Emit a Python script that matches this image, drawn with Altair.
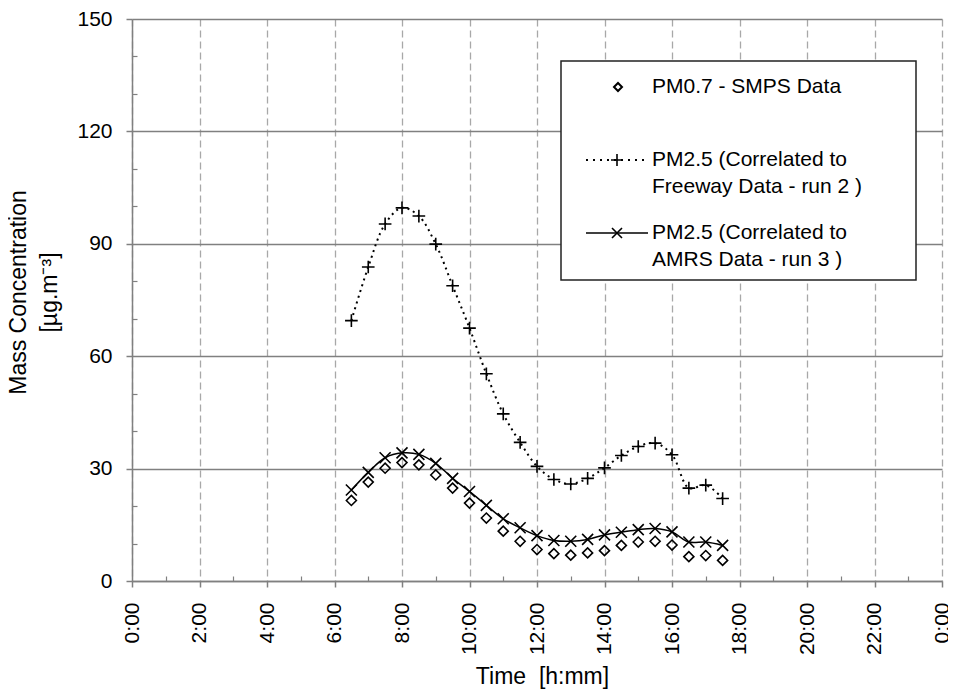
import altair as alt
import pandas as pd

# ---------------- data ----------------
hours = [6.5, 7.0, 7.5, 8.0, 8.5, 9.0, 9.5, 10.0, 10.5, 11.0, 11.5, 12.0,
         12.5, 13.0, 13.5, 14.0, 14.5, 15.0, 15.5, 16.0, 16.5, 17.0, 17.5]
pm07_smps = [21.5, 26.4, 30.1, 31.6, 31.0, 28.3, 24.8, 20.8, 16.8, 13.3, 10.6, 8.4,
             7.3, 6.9, 7.5, 8.1, 9.5, 10.4, 10.6, 9.6, 6.5, 6.8, 5.5]
pm25_freeway = [69.5, 83.8, 95.3, 99.6, 97.4, 89.9, 78.8, 67.5, 55.3, 44.6, 37.0, 30.6,
                27.1, 25.9, 27.4, 30.2, 33.5, 35.9, 36.8, 33.7, 24.8, 25.6, 22.0]
pm25_amrs = [24.3, 29.0, 32.9, 34.2, 33.8, 31.4, 27.4, 23.9, 20.2, 16.6, 14.2, 12.1,
             10.8, 10.6, 11.1, 12.3, 13.0, 13.7, 14.0, 13.1, 10.4, 10.4, 9.5]

series_names = ["SMPS", "Freeway", "AMRS"]
legend_text = [
    ["PM0.7 - SMPS Data"],
    ["PM2.5 (Correlated to", "Freeway Data - run 2 )"],
    ["PM2.5 (Correlated to", "AMRS Data - run 3 )"],
]
x_title = "Time\u00a0\u00a0[h:mm]"
y_title = ["Mass Concentration", "[µg.m⁻³]"]
x_ticks = [0, 2, 4, 6, 8, 10, 12, 14, 16, 18, 20, 22, 24]
x_minor = [1, 3, 5, 7, 9, 11, 13, 15, 17, 19, 21, 23]
y_ticks = [0, 30, 60, 90, 120, 150]
y_minor = [10, 20, 40, 50, 70, 80, 100, 110, 130, 140]

df = pd.DataFrame({
    "hour": hours * 3,
    "value": pm07_smps + pm25_freeway + pm25_amrs,
    "series": [series_names[0]] * len(hours) + [series_names[1]] * len(hours)
              + [series_names[2]] * len(hours),
})

FONT = "Liberation Sans"
GRAY = "#808080"
LEFT, TOP = 124, 11
W, H = 810, 562
BOTTOM = 109
PX0, PY0 = 8 + LEFT, 8 + TOP   # page position of plot origin

xs = alt.Scale(domain=[0, 24], nice=False, zero=False)
ys = alt.Scale(domain=[0, 150], nice=False)

PLUS = "M-1,0L1,0M0,-1L0,1"
CROSS = "M-1,-1L1,1M-1,1L1,-1"

base = alt.Chart(df)

x_axis = alt.Axis(
    values=x_ticks, labelExpr="(datum.value % 24) + ':00'", labelAngle=-90,
    labelFont=FONT, labelFontSize=21, labelColor="black", labelPadding=15,
    tickSize=6, tickColor=GRAY, tickWidth=1.5, domainColor=GRAY, domainWidth=1.5,
    grid=True, gridColor="#a8a8a8", gridDash=[7, 4], gridWidth=1.3,
    title=x_title, titleFont=FONT, titleFontSize=23, titleFontWeight="normal",
    titleColor="black", titleX=542 - PX0, titleY=683 - PY0 - H,
    titleBaseline="alphabetic",
)
y_axis = alt.Axis(
    values=y_ticks, labelFont=FONT, labelFontSize=21, labelColor="black",
    labelPadding=14, tickSize=6, tickColor=GRAY, tickWidth=1.5,
    domainColor=GRAY, domainWidth=1.5,
    grid=True, gridColor=GRAY, gridWidth=1.5,
    title=y_title, titleFont=FONT, titleFontSize=23,
    titleFontWeight="normal", titleColor="black", titleX=30 - PX0, titleY=292 - PY0,
    titleBaseline="bottom", titleLineHeight=31, titleAngle=270,
)

fw_line = base.transform_filter(alt.datum.series == "Freeway").mark_line(
    color="black", strokeWidth=2, strokeDash=[2, 4], interpolate="catmull-rom"
).encode(
    x=alt.X("hour:Q", scale=xs, axis=x_axis),
    y=alt.Y("value:Q", scale=ys, axis=y_axis),
)

minor = base.mark_point(opacity=0).encode(
    x=alt.X("hour:Q", scale=xs, axis=alt.Axis(
        orient="top", offset=-H, values=x_minor, labels=False, domain=False,
        grid=False, tickSize=5, tickColor=GRAY, tickWidth=1.2, title=None)),
    y=alt.Y("value:Q", scale=ys, axis=alt.Axis(
        orient="right", offset=-W, values=y_minor, labels=False, domain=False,
        grid=False, tickSize=5, tickColor=GRAY, tickWidth=1.2, title=None)),
)

am_line = base.transform_filter(alt.datum.series == "AMRS").mark_line(
    color="black", strokeWidth=1.5, interpolate="catmull-rom"
).encode(
    x=alt.X("hour:Q", scale=xs, axis=None),
    y=alt.Y("value:Q", scale=ys, axis=None),
)

def pts(name, shape, size):
    return base.transform_filter(alt.datum.series == name).mark_point(
        shape=shape, size=size, filled=False, color="black", strokeWidth=1.6, opacity=1
    ).encode(
        x=alt.X("hour:Q", scale=xs, axis=None),
        y=alt.Y("value:Q", scale=ys, axis=None),
    )

smps_pts = pts("SMPS", "diamond", 100)
fw_pts = pts("Freeway", PLUS, 160)
am_pts = pts("AMRS", CROSS, 121)

# ---------------- legend box (annotation, page pixels -> plot pixels) ----------------
one = alt.Chart(pd.DataFrame({"k": [0]}))

def px(v):
    return alt.value(v - PX0)

def py(v):
    return alt.value(v - PY0)

leg_box = one.mark_rect(fill="white", stroke="#222", strokeWidth=1.5).encode(
    x=px(561), x2=px(916), y=py(61), y2=py(280))
leg_diamond = one.mark_point(shape="diamond", size=64, filled=False, color="black",
                             strokeWidth=2, opacity=1).encode(x=px(618), y=py(87))
leg_dot = one.mark_rule(color="black", strokeWidth=2, strokeDash=[2, 5]).encode(
    x=px(586), x2=px(648), y=py(160))
leg_plus = one.mark_point(shape=PLUS, size=144, filled=False, color="black",
                          strokeWidth=1.6, opacity=1).encode(x=px(617), y=py(160))
leg_solid = one.mark_rule(color="black", strokeWidth=1.6).encode(
    x=px(586), x2=px(648), y=py(233))
leg_cross = one.mark_point(shape=CROSS, size=100, filled=False, color="black",
                           strokeWidth=1.6, opacity=1).encode(x=px(617), y=py(233))

def leg_txt(s, y):
    return one.mark_text(text=s, font=FONT, fontSize=21, align="left",
                         baseline="middle", color="black").encode(x=px(652), y=py(y))

leg_texts = [
    leg_txt(legend_text[0][0], 87),
    leg_txt(legend_text[1][0], 160),
    leg_txt(legend_text[1][1], 187),
    leg_txt(legend_text[2][0], 233),
    leg_txt(legend_text[2][1], 260),
]

chart = alt.layer(
    fw_line, minor, am_line, smps_pts, fw_pts, am_pts,
    leg_box, leg_diamond, leg_dot, leg_plus, leg_solid, leg_cross, *leg_texts
).resolve_axis(x="independent", y="independent").properties(
    width=W, height=H,
    autosize=alt.AutoSizeParams(type="none"),
    padding={"left": LEFT, "top": TOP, "right": 6, "bottom": BOTTOM},
    background="white",
).configure_view(strokeWidth=0)

chart.save("out.html", embed_options={"renderer": "svg", "actions": False})
